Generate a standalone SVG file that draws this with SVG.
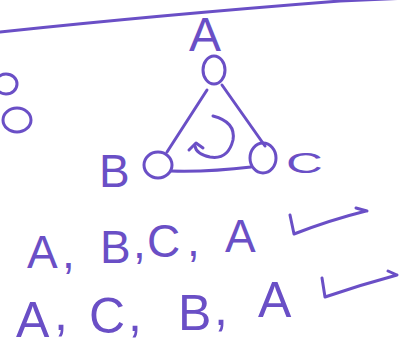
<svg xmlns="http://www.w3.org/2000/svg" width="409" height="348" viewBox="0 0 409 348">
<style>
.ink{fill:none;stroke:#6a4fc6;stroke-width:3;stroke-linecap:round;stroke-linejoin:round}
.t{fill:#6a4fc6;font-family:"Liberation Sans","DejaVu Sans",sans-serif}
</style>
<rect width="409" height="348" fill="#ffffff"/>
<path class="ink" d="M0 32 Q160 15 340 1 L409 -2"/>
<ellipse class="ink" cx="6" cy="84" rx="11" ry="10"/>
<ellipse class="ink" cx="17" cy="120" rx="14" ry="12"/>
<g id="connectors">
<path class="ink" d="M207 90 L167 152"/>
<path class="ink" d="M222 85 L265 146"/>
<path class="ink" d="M171 171 Q210 172 251 167"/>
<path class="ink" d="M213 116 Q236 122 233 140 Q228 160 210 157 Q196 154 195 146"/>
<path class="ink" d="M189 150 L196 143 L203 148"/>
</g>
<g id="nodeA">
<text class="t" x="189" y="51" font-size="48">A</text>
<ellipse class="ink" cx="214" cy="70" rx="11" ry="14"/>
</g>
<g id="nodeB">
<text class="t" x="99" y="187" font-size="46">B</text>
<ellipse class="ink" cx="158" cy="165" rx="14" ry="13"/>
</g>
<g id="nodeC">
<ellipse class="ink" cx="263" cy="158" rx="13" ry="15"/>
<text class="t" font-size="30" transform="translate(286 173) scale(1.7 1)">C</text>
</g>
<text class="t" font-size="46"><tspan x="27" y="268">A</tspan><tspan x="62" y="268">,</tspan><tspan x="100" y="263">B</tspan><tspan x="133" y="258">,</tspan><tspan x="147" y="257">C</tspan><tspan x="187" y="256">,</tspan><tspan x="225" y="252">A</tspan></text>
<path class="ink" d="M290 215 L294 234 Q330 220 366 211 M356 208 L367 211"/>
<text class="t" font-size="50"><tspan x="16" y="337">A</tspan><tspan x="54" y="330">,</tspan><tspan x="89" y="333">C</tspan><tspan x="128" y="331">,</tspan><tspan x="178" y="330">B</tspan><tspan x="214" y="325">,</tspan><tspan x="258" y="317">A</tspan></text>
<path class="ink" d="M322 278 L325 297 Q360 285 397 275 M388 271 L397 275"/>
</svg>
